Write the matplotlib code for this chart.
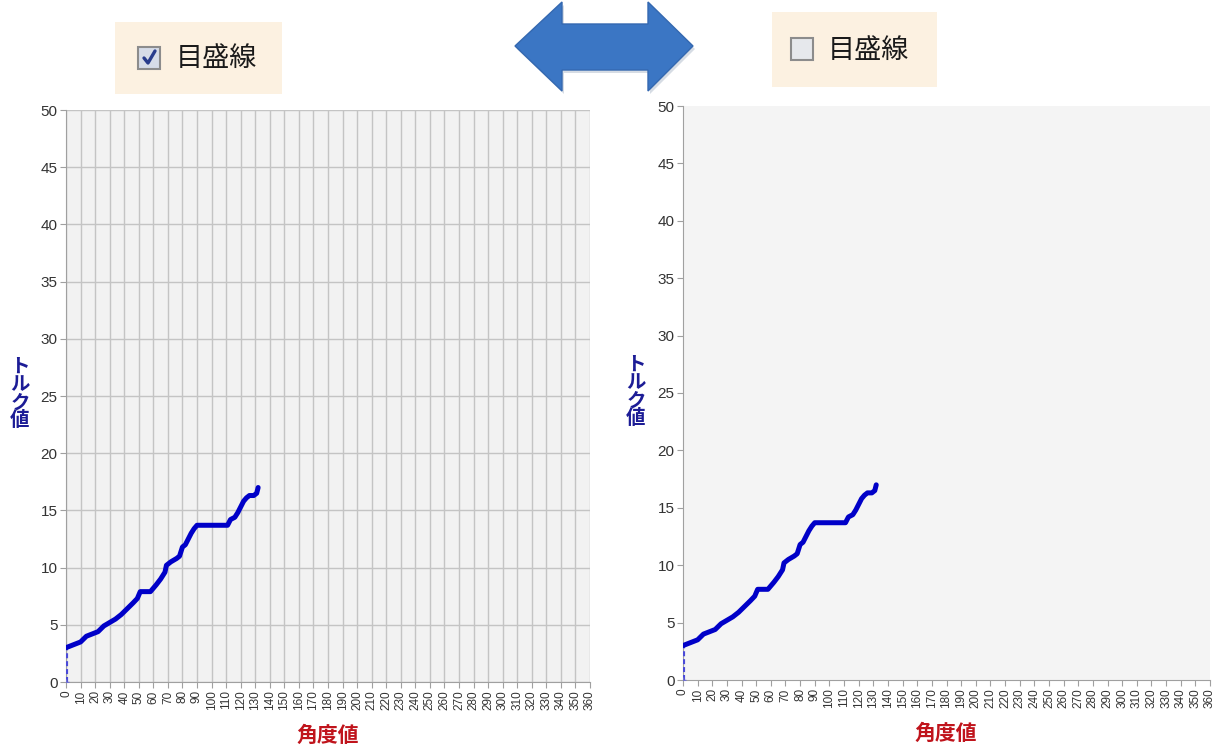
import matplotlib
matplotlib.use("Agg")
from matplotlib import pyplot as plt
from matplotlib.patches import Polygon, Rectangle
from matplotlib.lines import Line2D

plt.rcParams['font.family'] = ['Liberation Sans', 'Noto Sans CJK JP', 'DejaVu Sans']

# data
angle = [0, 2, 6, 10, 14, 18, 22, 26, 30, 34, 38, 42, 46, 49, 51, 55, 58, 62, 65,
         68, 69, 72, 76, 78, 80, 82, 84, 86, 88, 90, 93, 100, 106, 111, 113, 116,
         118, 120, 122, 124, 126, 129, 131, 132]
torque = [3.0, 3.1, 3.3, 3.5, 4.0, 4.2, 4.4, 4.9, 5.2, 5.5, 5.9, 6.4, 6.9, 7.3,
          7.9, 7.9, 7.9, 8.5, 9.0, 9.6, 10.2, 10.5, 10.8, 11.0, 11.8, 12.0, 12.5,
          13.0, 13.4, 13.7, 13.7, 13.7, 13.7, 13.7, 14.2, 14.4, 14.8, 15.3, 15.8,
          16.1, 16.3, 16.3, 16.5, 17.0]
start_angle = [0, 0]
start_torque = [0, 3.0]

y_ticks = list(range(0, 51, 5))
x_ticks = list(range(0, 361, 10))
ylabel_text = "トルク値"
xlabel_text = "角度値"
check_text = "目盛線"

W, H = 1227, 749
fig = plt.figure(figsize=(W / 100, H / 100), dpi=100)


def px(x, y):
    # pixel position (top-left origin) -> figure fraction
    return x / W, (H - y) / H


def make_chart(left, top, right, bottom, grid):
    x0, y1 = px(left, top)
    x1, y0 = px(right, bottom)
    ax = fig.add_axes([x0, y0, x1 - x0, y1 - y0])
    ax.set_facecolor('#f2f2f2' if grid else '#f4f4f4')
    ax.plot(start_angle, start_torque, color='#4a4ad8', lw=3,
            linestyle=(0, (1.2, 0.7)), zorder=3)
    ax.plot(angle, torque, color='#0000c8', lw=3.6, solid_capstyle='round',
            solid_joinstyle='round', zorder=4)
    ax.plot([0], [0], marker='+', color='#7070d0', ms=5, zorder=5)
    ax.set_xlim(0, 360)
    ax.set_ylim(0, 50)
    ax.set_yticks(y_ticks)
    ax.set_xticks(x_ticks)
    ax.set_xticklabels([str(v) for v in x_ticks], rotation=90, fontsize=8.5,
                       color='#333333')
    ax.tick_params(axis='y', labelsize=11, labelcolor='#333333', length=4,
                   color='#a0a0a0', pad=2)
    ax.tick_params(axis='x', length=4, color='#a0a0a0', pad=2)
    for s in ['top', 'right']:
        ax.spines[s].set_visible(False)
    for s in ['left', 'bottom']:
        ax.spines[s].set_color('#a0a0a0')
    if grid:
        ax.grid(True, color='#c4c4c4', lw=1)
        ax.set_axisbelow(True)
    return ax


make_chart(66, 110, 590, 682, True)
make_chart(683, 106, 1210, 680, False)

# axis titles
for cx, cy in [(20, 394), (636, 392)]:
    fig.text(*px(cx, cy), "\n".join(ylabel_text), ha='center', va='center',
             fontsize=14, fontweight='bold', color='#1c1c96',
             linespacing=0.92, family=['Noto Sans CJK JP'])
for cx, cy in [(328, 735), (946, 733)]:
    fig.text(*px(cx, cy), xlabel_text, ha='center', va='center', fontsize=15,
             fontweight='bold', color='#c0141c', family=['Noto Sans CJK JP'])

# checkbox label boxes
for (bx0, by0, bx1, by1) in [(115, 22, 282, 94), (772, 12, 937, 87)]:
    fx, fy = px(bx0, by1)
    fig.add_artist(Rectangle((fx, fy), (bx1 - bx0) / W, (by1 - by0) / H,
                             transform=fig.transFigure, facecolor='#fcf1e1',
                             edgecolor='none', zorder=1))

for (cx0, cy0, fill) in [(138, 47, '#d6dce8'), (791, 38, '#e6e8ec')]:
    fx, fy = px(cx0, cy0 + 22)
    fig.add_artist(Rectangle((fx, fy), 22 / W, 22 / H, transform=fig.transFigure,
                             facecolor=fill, edgecolor='#8c8c8c', lw=1.5, zorder=2))

# check mark on the left box
ck = [px(144, 58), px(148, 63), px(155, 51)]
fig.add_artist(Line2D([p[0] for p in ck], [p[1] for p in ck],
                      transform=fig.transFigure, color='#283c8c', lw=2.4,
                      solid_capstyle='round', zorder=3))

fig.text(*px(176, 58), check_text, ha='left', va='center', fontsize=19.5,
         color='#1a1a1a', family=['Noto Sans CJK JP'], zorder=3)
fig.text(*px(828, 50), check_text, ha='left', va='center', fontsize=19.5,
         color='#1a1a1a', family=['Noto Sans CJK JP'], zorder=3)

# double arrow
arrow_px = [(515, 46), (562, 2), (562, 24), (648, 24), (648, 2), (693, 46),
            (648, 91), (648, 70), (562, 70), (562, 91)]
shadow = [px(x + 2, y + 3) for x, y in arrow_px]
fig.add_artist(Polygon(shadow, closed=True, transform=fig.transFigure,
                       facecolor='#9aa8bc', edgecolor='none', alpha=0.4, zorder=1))
fig.add_artist(Polygon([px(x, y) for x, y in arrow_px], closed=True,
                       transform=fig.transFigure, facecolor='#3b76c4',
                       edgecolor='#3468b0', lw=1, zorder=2))

fig.savefig("out.png", dpi=100)
